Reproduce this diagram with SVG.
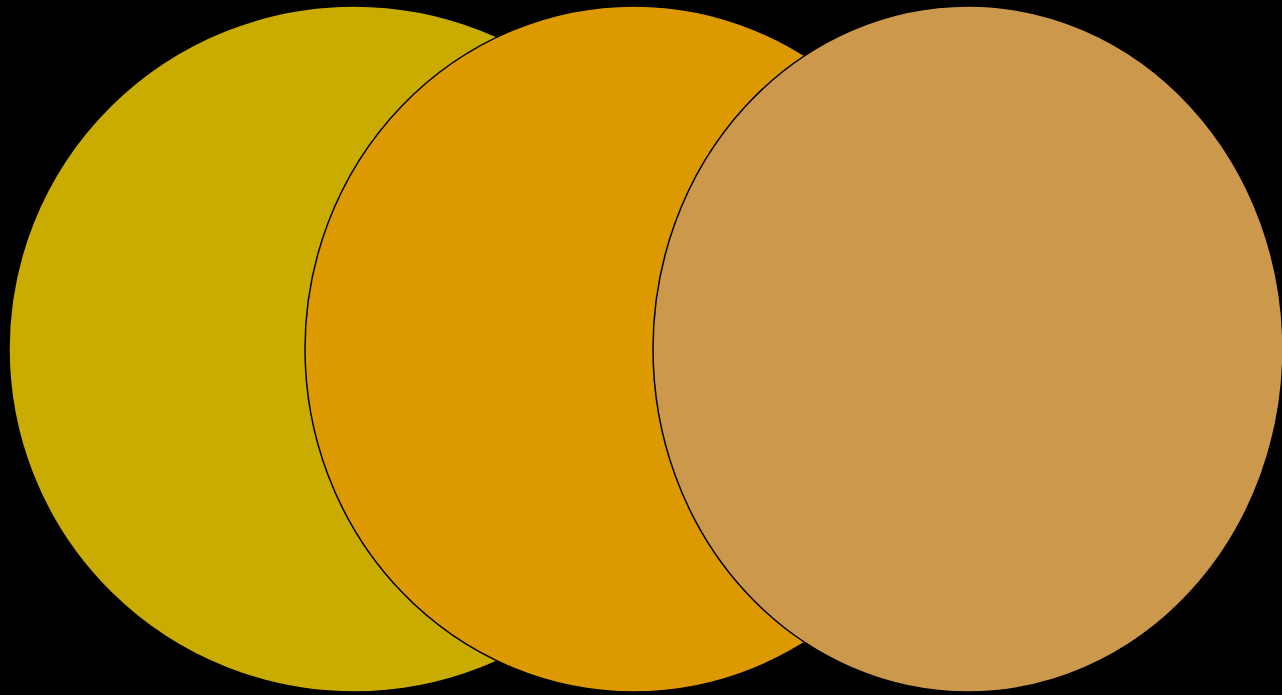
<svg xmlns="http://www.w3.org/2000/svg" width="1282" height="695" viewBox="0 0 1282 695">
<style>.c{stroke:#000;stroke-width:1.5}</style>
<rect width="1282" height="695" fill="#000"/>
<g id="c1"><ellipse class="c" cx="354" cy="349" rx="345" ry="343" fill="#CAAB00"/></g>
<g id="c2"><ellipse class="c" cx="634" cy="349" rx="329" ry="343" fill="#DD9900"/></g>
<g id="c3"><ellipse class="c" cx="968" cy="349" rx="315" ry="343" fill="#CC984B"/></g>
<g id="connectors"></g>
</svg>
